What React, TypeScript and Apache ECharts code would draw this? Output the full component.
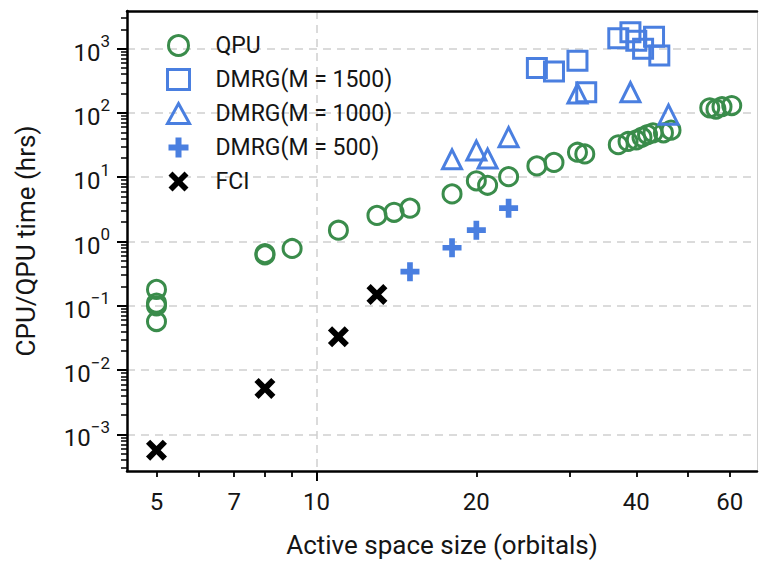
import React, { useEffect, useRef } from "react";
import * as echarts from "echarts";

// ---- data ----
const qpuX = [5, 5, 5, 5, 8, 8, 9, 11, 13, 14, 15, 18, 20, 21, 23, 26, 28, 31, 32, 37, 38.6, 40, 41, 42, 43, 45, 46.5, 55, 56.5, 58, 60.5];
const qpuY = [0.18, 0.11, 0.1, 0.057, 0.62, 0.65, 0.78, 1.5, 2.55, 2.85, 3.3, 5.5, 8.8, 7.5, 10.2, 15, 17, 24.5, 23, 32, 36, 38, 42, 46, 49, 49, 54, 120, 115, 125, 130];
const m1500X = [26, 28, 31, 32.2, 37, 39, 40, 41.2, 43.2, 44.2];
const m1500Y = [500, 440, 650, 210, 1450, 1800, 1330, 1000, 1530, 780];
const m1000X = [18, 20, 21, 23, 31, 39, 46];
const m1000Y = [19, 26, 19.5, 42, 200, 210, 94];
const m500X = [15, 18, 20, 23];
const m500Y = [0.34, 0.8, 1.5, 3.3];
const fciX = [5, 8, 11, 13];
const fciY = [0.00057, 0.0052, 0.033, 0.15];

const seriesNames = ["QPU", "DMRG(M = 1500)", "DMRG(M = 1000)", "DMRG(M = 500)", "FCI"];

const xRange = [4.4, 67.5];
const yRange = [0.00027, 3850];
const xMajorTicks = [10];
const xMinorTicks = [5, 6, 7, 8, 9, 20, 30, 40, 50, 60];
const xTickLabels = [5, 7, 10, 20, 40, 60];
const yExponents = [-3, -2, -1, 0, 1, 2, 3];
const yMinorMultipliers = [2, 3, 4, 5, 6, 7, 8, 9];

const xTitle = "Active space size (orbitals)";
const yTitle = "CPU/QPU time (hrs)";

// ---- styling ----
const GREEN = "#3a8c4b";
const BLUE = "#4a7fe0";
const FONT = "Roboto";
const TEXT = "#151515";
const PLUS = "path://M7,0H13V7H20V13H13V20H7V13H0V7H7Z";
const CROSS = "path://M0,4L4,0L10,6L16,0L20,4L14,10L20,16L16,20L10,14L4,20L0,16L6,10Z";

const zip = (xs: number[], ys: number[]) => xs.map((x, i) => [x, ys[i]]);

export default function App() {
  const ref = useRef<HTMLDivElement>(null);
  useEffect(() => {
    if (!ref.current) return;
    const chart = echarts.init(ref.current, undefined, { renderer: "svg" });

    const yMajor = yExponents.map((e) => Math.pow(10, e));
    const yMinor: number[] = [];
    for (let e = -4; e <= 3; e++) {
      for (const m of yMinorMultipliers) {
        const v = m * Math.pow(10, e);
        if (v >= yRange[0] && v <= yRange[1]) yMinor.push(v);
      }
    }

    const hidden = { show: false };
    const option: any = {
      animation: false,
      backgroundColor: "#fff",
      grid: { left: 127, top: 11, width: 630, height: 463, containLabel: false },
      legend: {
        orient: "vertical",
        left: 161,
        top: 29,
        itemWidth: 22,
        itemHeight: 20,
        itemGap: 11,
        textStyle: { fontFamily: FONT, fontSize: 23, color: TEXT, padding: [0, 0, 0, 21] },
        data: [
          { name: seriesNames[0], icon: "circle", itemStyle: { color: "transparent", borderColor: GREEN, borderWidth: 3, opacity: 1 } },
          { name: seriesNames[1], icon: "rect", itemStyle: { color: "transparent", borderColor: BLUE, borderWidth: 3, opacity: 1 } },
          { name: seriesNames[2], icon: "triangle", itemStyle: { color: "transparent", borderColor: BLUE, borderWidth: 3, opacity: 1 } },
          { name: seriesNames[3], icon: PLUS, itemStyle: { color: BLUE, borderWidth: 0, opacity: 1 } },
          { name: seriesNames[4], icon: CROSS, itemStyle: { color: "#000", borderWidth: 0, opacity: 1 } },
        ],
      },
      xAxis: [
        {
          type: "log",
          logBase: 10,
          min: xRange[0],
          max: xRange[1],
          axisLine: { show: true, onZero: false, lineStyle: { color: "#000", width: 2.5 } },
          axisTick: { show: true, customValues: xMajorTicks, length: 10, lineStyle: { color: "#000", width: 2 } },
          axisLabel: {
            show: true,
            customValues: xTickLabels,
            formatter: (v: number) => String(Math.round(v)),
            fontFamily: FONT,
            fontSize: 24,
            color: TEXT,
            margin: 19,
          },
          splitLine: { show: true, lineStyle: { color: "#cfcfcf", width: 1.5, type: [8, 6] } },
          name: xTitle,
          nameLocation: "middle",
          nameGap: 61,
          nameTextStyle: { fontFamily: FONT, fontSize: 26, color: TEXT },
        },
        {
          type: "log",
          logBase: 10,
          min: xRange[0],
          max: xRange[1],
          position: "bottom",
          axisLine: hidden,
          axisTick: { show: true, customValues: xMinorTicks, length: 6, lineStyle: { color: "#000", width: 1.8 } },
          axisLabel: hidden,
          splitLine: hidden,
        },
        {
          type: "log",
          logBase: 10,
          min: xRange[0],
          max: xRange[1],
          position: "top",
          axisLine: { show: true, onZero: false, lineStyle: { color: "#000", width: 2.5 } },
          axisTick: hidden,
          axisLabel: hidden,
          splitLine: hidden,
        },
      ],
      yAxis: [
        {
          type: "log",
          logBase: 10,
          min: yRange[0],
          max: yRange[1],
          axisLine: { show: true, onZero: false, lineStyle: { color: "#000", width: 2.5 } },
          axisTick: { show: true, customValues: yMajor, length: 10, lineStyle: { color: "#000", width: 2 } },
          axisLabel: {
            show: true,
            customValues: yMajor,
            formatter: (v: number) => {
              const e = Math.round(Math.log10(v));
              const s = e < 0 ? "\u2212" + Math.abs(e) : String(e);
              return "{b|10}{s|" + s + "}";
            },
            margin: 17,
            rich: {
              b: { fontFamily: FONT, fontSize: 24, color: TEXT, lineHeight: 32, verticalAlign: "bottom" },
              s: { fontFamily: FONT, fontSize: 17, color: TEXT, lineHeight: 17, verticalAlign: "top" },
            },
          },
          splitLine: { show: true, lineStyle: { color: "#cfcfcf", width: 1.5, type: [8, 6] } },
          name: yTitle,
          nameLocation: "middle",
          nameGap: 88,
          nameRotate: 90,
          nameTextStyle: { fontFamily: FONT, fontSize: 26, color: TEXT },
        },
        {
          type: "log",
          logBase: 10,
          min: yRange[0],
          max: yRange[1],
          position: "left",
          axisLine: hidden,
          axisTick: { show: true, customValues: yMinor, length: 6, lineStyle: { color: "#000", width: 1.5 } },
          axisLabel: hidden,
          splitLine: hidden,
        },
        {
          type: "log",
          logBase: 10,
          min: yRange[0],
          max: yRange[1],
          position: "right",
          axisLine: { show: true, onZero: false, lineStyle: { color: "#d0d0d0", width: 1 } },
          axisTick: hidden,
          axisLabel: hidden,
          splitLine: hidden,
        },
      ],
      series: [
        {
          name: seriesNames[0],
          type: "scatter",
          data: zip(qpuX, qpuY),
          symbol: "circle",
          symbolSize: 18,
          itemStyle: { color: "transparent", borderColor: GREEN, borderWidth: 3, opacity: 1 },
        },
        {
          name: seriesNames[1],
          type: "scatter",
          data: zip(m1500X, m1500Y),
          symbol: "rect",
          symbolSize: 19,
          itemStyle: { color: "transparent", borderColor: BLUE, borderWidth: 3, opacity: 1 },
        },
        {
          name: seriesNames[2],
          type: "scatter",
          data: zip(m1000X, m1000Y),
          symbol: "triangle",
          symbolSize: 19,
          itemStyle: { color: "transparent", borderColor: BLUE, borderWidth: 3, opacity: 1 },
        },
        {
          name: seriesNames[3],
          type: "scatter",
          data: zip(m500X, m500Y),
          symbol: PLUS,
          symbolSize: 19,
          itemStyle: { color: BLUE, opacity: 1 },
        },
        {
          name: seriesNames[4],
          type: "scatter",
          data: zip(fciX, fciY),
          symbol: CROSS,
          symbolSize: 21,
          itemStyle: { color: "#000", opacity: 1 },
        },
      ],
    };
    chart.setOption(option);
    return () => chart.dispose();
  }, []);
  return <div ref={ref} style={{ position: "fixed", left: 0, top: 0, width: 759, height: 563, background: "#fff" }} />;
}
